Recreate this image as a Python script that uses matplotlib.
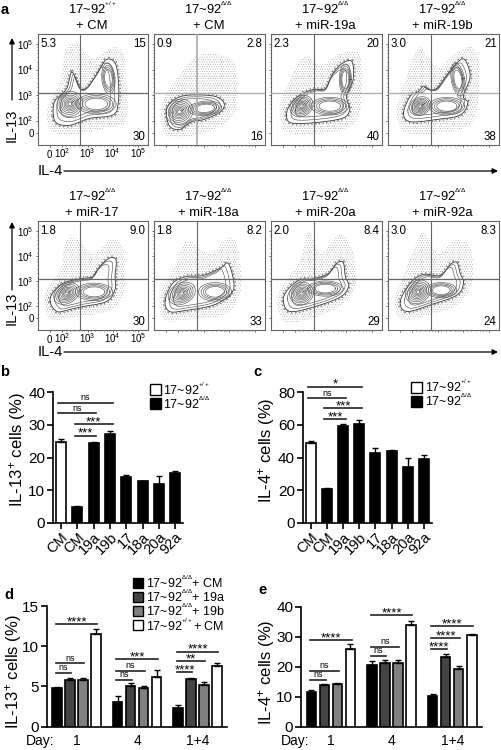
import matplotlib
matplotlib.use('Agg')
import matplotlib.pyplot as plt
import matplotlib.patches as patches
import numpy as np

plt.rcParams['font.family'] = ['Liberation Sans', 'DejaVu Sans']
plt.rcParams['mathtext.fontset'] = 'custom'
plt.rcParams['mathtext.rm'] = 'Liberation Sans'
plt.rcParams['mathtext.default'] = 'regular'
plt.rcParams['hatch.linewidth'] = 0.3

W, H = 502, 750
WT = '17~92$^{{}^{+/+}}$'
KO = '17~92$^{{}^{\\Delta/\\Delta}}$'

titles = [WT + '\n+ CM', KO + '\n+ CM', KO + '\n+ miR-19a', KO + '\n+ miR-19b',
          KO + '\n+ miR-17', KO + '\n+ miR-18a', KO + '\n+ miR-20a', KO + '\n+ miR-92a']
q_ul = ['5.3', '0.9', '2.3', '3.0', '1.8', '1.8', '2.0', '3.0']
q_ur = ['15', '2.8', '20', '21', '9.0', '8.2', '8.4', '8.3']
q_lr = ['30', '16', '40', '38', '30', '33', '29', '24']
tick_pos = [10.6, 22, 45, 68, 91]
tick_lab = ['0', '$10^{2}$', '$10^{3}$', '$10^{4}$', '$10^{5}$']

outer = [
    [(14, 26), (18, 19), (30, 18), (47, 24), (68, 27), (73, 38), (73, 59), (70, 74), (62, 77), (55, 66),
     (45, 52), (38, 51), (33, 63), (30, 65), (27, 53), (23, 47), (15, 39)],
    [(11, 29), (14, 17), (23, 14), (34, 21), (45, 23), (60, 30), (63, 38), (54, 44), (32, 45), (20, 42), (13, 36)],
    [(14, 27), (18, 20), (38, 20), (64, 24), (71, 32), (68, 44), (74, 59), (73, 75), (65, 74), (56, 65),
     (49, 51), (38, 50), (26, 45), (17, 36)],
    [(14, 29), (20, 21), (44, 23), (65, 27), (72, 38), (68, 44), (74, 62), (69, 77), (62, 74), (53, 63),
     (44, 51), (36, 50), (32, 53), (27, 48), (20, 44)],
    [(11, 26), (17, 17), (26, 18), (38, 21), (62, 26), (70, 37), (70, 49), (71, 64), (65, 66), (56, 58),
     (50, 49), (38, 47), (23, 43), (14, 35)],
    [(10, 27), (14, 17), (29, 18), (54, 23), (69, 33), (72, 43), (67, 61), (60, 57), (44, 50), (29, 49), (17, 43)],
    [(11, 27), (17, 17), (38, 21), (62, 30), (70, 40), (67, 49), (65, 62), (59, 61), (52, 52), (38, 47),
     (26, 46), (15, 37)],
    [(11, 26), (17, 17), (38, 23), (62, 32), (68, 43), (65, 52), (62, 62), (56, 60), (47, 50), (32, 51), (20, 43)],
]
clouds = [
    [(8, 28), (12, 13), (30, 9), (60, 15), (80, 22), (80, 60), (78, 82), (68, 88), (50, 78), (35, 92), (25, 85), (20, 55), (12, 42)],
    [(6, 28), (10, 10), (28, 7), (55, 15), (72, 28), (75, 50), (72, 75), (55, 82), (38, 80), (25, 65), (10, 45)],
    [(8, 28), (14, 12), (40, 10), (70, 16), (80, 30), (82, 70), (78, 84), (62, 82), (45, 72), (32, 80), (22, 70), (10, 42)],
    [(8, 28), (14, 12), (40, 10), (70, 16), (80, 32), (82, 70), (76, 88), (60, 82), (45, 70), (28, 88), (18, 65), (10, 42)],
    [(6, 27), (12, 10), (35, 12), (65, 18), (78, 35), (78, 70), (68, 84), (50, 70), (35, 84), (25, 80), (20, 55), (8, 38)],
    [(5, 27), (10, 9), (35, 10), (65, 15), (78, 35), (76, 72), (68, 85), (50, 70), (30, 82), (20, 62), (8, 38)],
    [(6, 25), (12, 8), (35, 10), (62, 22), (76, 40), (74, 72), (62, 88), (45, 70), (34, 90), (25, 62), (10, 40)],
    [(6, 26), (12, 10), (38, 14), (64, 24), (76, 45), (74, 76), (60, 82), (45, 70), (32, 90), (22, 70), (10, 40)],
]
# nested rings: centre x, centre y, width, height, angle
lobes = [
    [(29, 37, 24, 22, 30), (53, 37, 36, 18, 0), (64, 60, 12, 28, 5)],
    [(23, 30, 25, 22, 30), (46, 33, 30, 13, 5)],
    [(27.5, 35, 22, 18, 35), (53, 35, 34, 16, 0), (67, 59, 11, 28, 0)],
    [(29, 35, 20, 16, 30), (53, 35, 32, 16, 0), (63, 59, 12, 30, 10)],
    [(26, 33.5, 25, 18, 30), (51, 35, 34, 16, 0)],
    [(25, 33.5, 26, 19, 30), (55, 35, 30, 17, 0)],
    [(27.5, 33.5, 22, 20, 35), (49, 38, 32, 14, 0)],
    [(27, 35, 24, 20, 40), (48, 36.5, 28, 14, 0)],
]
ring_scale = [1, 0.84, 0.7, 0.57, 0.45, 0.34, 0.24, 0.14]
mid_scale = [0.88, 0.76]

# bars b and c
names = ['CM', 'CM', '19a', '19b', '17', '18a', '20a', '92a']
il13 = [24.7, 5.0, 24.3, 27.2, 14.0, 12.8, 11.9, 15.4]
il13_err = [0.8, 0.2, 0.5, 0.9, 0.7, 0.1, 2.3, 0.5]
il4 = [49, 21, 59.5, 60.5, 43, 44, 34, 39]
il4_err = [1.3, 0.5, 0.9, 2.2, 2.5, 0.4, 5.8, 2.4]
sig_b = [(0, 3, 36.6, 'ns'), (0, 2, 33.5, 'ns'), (1, 3, 30.1, '***'), (1, 2, 26.7, '***')]
sig_c = [(0, 3, 83.3, '*'), (0, 2, 76.1, 'ns'), (1, 3, 70.2, '***'), (1, 2, 63.3, '***')]

# bars d and e, 3 days with 4 groups each
days = ['1', '4', '1+4']
il13_day = [4.8, 5.8, 5.8, 11.5, 3.1, 5.0, 4.8, 6.2, 2.3, 5.9, 5.2, 7.5]
il13_day_err = [0.1, 0.25, 0.25, 0.6, 0.7, 0.4, 0.2, 0.9, 0.45, 0.15, 0.4, 0.45]
il4_day = [11.5, 13.8, 14.3, 26, 20.6, 21.3, 21.3, 33.8, 10.1, 23.4, 19.2, 30.5]
il4_day_err = [0.7, 0.5, 0.4, 1.5, 1.2, 1.0, 1.0, 1.4, 0.8, 1.0, 1.1, 0.4]
sig_d = [(0, 3, 12.76, '****'), (0, 2, 7.87, 'ns'), (0, 1, 6.71, 'ns'),
         (4, 7, 8.37, '***'), (4, 6, 6.96, 'ns'), (4, 5, 5.8, 'ns'),
         (8, 11, 9.32, '****'), (8, 10, 8.12, '**'), (8, 9, 6.75, '****')]
sig_e = [(0, 3, 28.9, '****'), (0, 2, 18.7, 'ns'), (0, 1, 15.6, 'ns'),
         (4, 7, 37.2, '****'), (4, 6, 26.7, 'ns'), (4, 5, 23.7, 'ns'),
         (8, 11, 33.6, '****'), (8, 10, 29.6, '****'), (8, 9, 25.8, '****')]
day_colors = ['black', '#444444', '#808080', 'white']
day_names = [KO + '+ CM', KO + '+ 19a', KO + '+ 19b', WT + '+ CM']

fig = plt.figure(figsize=(W / 100, H / 100), dpi=100)


def px_axes(x0, y0, x1, y1):
    # axes from pixel box, y counted from the top of the image
    return fig.add_axes([x0 / W, 1 - y1 / H, (x1 - x0) / W, (y1 - y0) / H])


def txt(x, y, s, **kw):
    kw.setdefault('ha', 'center')
    kw.setdefault('va', 'center')
    fig.text(x / W, 1 - y / H, s, **kw)


def smooth(pts, n=10):
    # closed catmull-rom through the read points
    p = np.array(pts, dtype=float)
    t = np.linspace(0, 1, n, endpoint=False)[:, None]
    out = []
    for i in range(len(p)):
        a, b, c, d = p[i - 1], p[i], p[(i + 1) % len(p)], p[(i + 2) % len(p)]
        out.append(0.5 * (2 * b + (c - a) * t + (2 * a - 5 * b + 4 * c - d) * t ** 2 + (3 * b - a - 3 * c + d) * t ** 3))
    out = np.vstack(out)
    return np.vstack([out, out[:1]])


def ring(cx, cy, w, h, ang, s):
    t = np.linspace(0, 2 * np.pi, 50)
    a = np.radians(ang)
    x = s * w / 2 * np.cos(t)
    y = s * h / 2 * np.sin(t)
    return cx + x * np.cos(a) - y * np.sin(a), cy + x * np.sin(a) + y * np.cos(a)


def flow_panel(k, box, gate_y, labelled):
    ax = px_axes(*box)
    ax.set_xlim(0, 100)
    ax.set_ylim(0, 100)
    ax.add_patch(patches.Polygon(smooth(clouds[k]), closed=True, facecolor='none', edgecolor='#9a9a9a',
                                 hatch='.......', lw=0, zorder=1))
    o = smooth(outer[k])
    ax.plot(o[:, 0], o[:, 1], color='#777777', lw=3, ls=(0, (0.3, 0.6)), zorder=2)
    ax.fill(o[:, 0], o[:, 1], color='white', zorder=3)
    ax.plot(o[:, 0], o[:, 1], color='#333333', lw=0.6, zorder=5)
    c = o.mean(axis=0)
    for s in mid_scale:
        ax.plot(c[0] + s * (o[:, 0] - c[0]), c[1] + s * (o[:, 1] - c[1]), color='#555555', lw=0.45, zorder=5)
    for n, lobe in enumerate(lobes[k]):
        for s in ring_scale[:8 if n == 0 else 4]:
            x, y = ring(*lobe, s)
            ax.plot(x, y, color='#555555', lw=0.45, zorder=5)
    gate = '#aaaaaa' if k == 1 else '#666666'
    ax.axvline(38.5, color=gate, lw=1.2 if k == 1 else 0.8, zorder=6)
    ax.axhline(gate_y, color='#aaaaaa' if k in (1, 2, 3) else '#666666', lw=0.9, zorder=6)
    ax.text(2, 96, q_ul[k], fontsize=8.3, ha='left', va='top', zorder=7)
    ax.text(98, 96, q_ur[k], fontsize=8.3, ha='right', va='top', zorder=7)
    ax.text(98, 2, q_lr[k], fontsize=8.3, ha='right', va='bottom', zorder=7)
    minor = [p + d for p in tick_pos[1:4] for d in (3, 7, 11, 15, 18, 20)]
    ax.set_xticks(tick_pos)
    ax.set_yticks(tick_pos)
    ax.set_xticks(minor, minor=True)
    ax.set_yticks(minor, minor=True)
    ax.tick_params(which='both', length=1.5, width=0.5, labelsize=7, color='#333333')
    ax.tick_params(axis='x', pad=8)
    ax.tick_params(axis='y', pad=1.5)
    ax.tick_params(which='minor', length=1)
    ax.set_xticklabels(tick_lab if labelled else [], va='baseline')
    ax.set_yticklabels(tick_lab if labelled else [])
    for s in ax.spines.values():
        s.set_color('#666666')
        s.set_linewidth(0.8)
    txt((box[0] + box[2]) / 2 - 1, box[1] - 18, titles[k], fontsize=9.4, linespacing=1.4)


def style_bars(ax, ymax, yticks):
    ax.set_ylim(0, ymax)
    ax.set_yticks(yticks)
    ax.spines['top'].set_visible(False)
    ax.spines['right'].set_visible(False)
    ax.spines['left'].set_linewidth(1.2)
    ax.spines['bottom'].set_linewidth(1.2)
    ax.patch.set_alpha(0)
    ax.tick_params(axis='y', length=4, width=1.2, pad=1.5, labelsize=11)


def brackets(ax, xs, sig, over):
    for a, b, y, lab in sig:
        ax.plot([xs[a] - over, xs[b] + over], [y, y], color='#222222', lw=1.2, clip_on=False)
        mid = (xs[a] + xs[b]) / 2
        if lab == 'ns':
            ax.annotate(lab, (mid, y), xytext=(0, 0.5), textcoords='offset points', ha='center', va='bottom',
                        fontsize=6.5, annotation_clip=False)
        else:
            ax.annotate(lab, (mid, y), xytext=(0, -3), textcoords='offset points', ha='center', va='bottom',
                        fontsize=9.5, annotation_clip=False)


def cell_panel(box, vals, errs, ymax, yticks, sig, ylabel, ylab_x):
    ax = px_axes(*box)
    xs = np.arange(len(vals))
    cols = ['white'] + ['black'] * (len(vals) - 1)
    ax.bar(xs, vals, width=0.62, color=cols, edgecolor='black', lw=1.2, zorder=3,
           yerr=[np.zeros(len(vals)), errs], ecolor='black', capsize=2.5, error_kw={'lw': 1, 'capthick': 1})
    ax.set_xlim(-0.49, 7.47)
    style_bars(ax, ymax, yticks)
    ax.set_xticks(xs)
    ax.set_xticklabels(names, rotation=45, ha='right', rotation_mode='anchor', fontsize=10.5)
    ax.tick_params(axis='x', length=4, width=1.2, pad=1)
    brackets(ax, xs, sig, 0.16)
    txt(ylab_x, 450, ylabel, rotation=90, fontsize=12)


def day_panel(box, vals, errs, ymax, yticks, sig, ylabel, ylab_x, day_x):
    ax = px_axes(*box)
    xs = np.array([g * 4.65 + i for g in range(3) for i in range(4)])
    ax.bar(xs, vals, width=0.73, color=day_colors * 3, edgecolor='black', lw=1.2, zorder=3,
           yerr=[np.zeros(len(vals)), errs], ecolor='black', capsize=2.5, error_kw={'lw': 1, 'capthick': 1})
    ax.set_xlim(-0.79, 13.06)
    style_bars(ax, ymax, yticks)
    ax.set_xticks([])
    brackets(ax, xs, sig, 0.1)
    txt(ylab_x, 672, ylabel, rotation=90, fontsize=12)
    txt(day_x, 741, 'Day:', fontsize=10)
    for g in range(3):
        centre = box[0] + (xs[g * 4] + 1.5 + 0.79) * (box[2] - box[0]) / 13.85
        txt(centre, 741, days[g], fontsize=10)


def key(x, y, color, label, size=11, fs=9):
    fig.add_artist(patches.Rectangle((x / W, 1 - (y + size) / H), size / W, size / H, facecolor=color,
                                     edgecolor='black', lw=1, transform=fig.transFigure))
    txt(x + size + 3, y + size / 2, label, fontsize=fs, ha='left')


def arrow(x0, y0, x1, y1):
    fig.add_artist(patches.FancyArrowPatch((x0 / W, 1 - y0 / H), (x1 / W, 1 - y1 / H), transform=fig.transFigure,
                                           arrowstyle='-|>', mutation_scale=8, lw=0.9, color='black',
                                           shrinkA=0, shrinkB=0))


# panel a
col_x = [(38, 148), (154, 265), (271, 382), (388, 499)]
for k in range(8):
    x0, x1 = col_x[k % 4]
    row = (34, 145) if k < 4 else (221, 330)
    flow_panel(k, (x0, row[0], x1, row[1]), 46.4 if k < 4 else 47, k % 4 == 0)
for y_top, y_low, y_lab, y_il4 in [(38, 100, 125, 171), (222, 290, 308, 352)]:
    arrow(12, y_low, 12, y_top)
    txt(12, y_lab, 'IL-13', rotation=90, fontsize=10.5)
    txt(50, y_il4, 'IL-4', fontsize=10.5)
    arrow(64, y_il4, 498, y_il4)

# panels b to e
cell_panel((53, 392, 183, 523), il13, il13_err, 40, [0, 10, 20, 30, 40], sig_b, 'IL-13$^{+}$ cells (%)', 18)
cell_panel((302.7, 392, 431.7, 523), il4, il4_err, 80, [0, 20, 40, 60, 80], sig_c, 'IL-4$^{+}$ cells (%)', 267)
day_panel((46.7, 606, 227, 726.7), il13_day, il13_day_err, 15, [0, 5, 10, 15], sig_d, 'IL-13$^{+}$ cells (%)', 13, 40)
day_panel((301, 606.7, 481.7, 726.7), il4_day, il4_day_err, 40, [0, 10, 20, 30, 40], sig_e, 'IL-4$^{+}$ cells (%)', 267, 295)

key(149.5, 384, 'white', WT)
key(149.5, 398, 'black', KO)
key(410.7, 381.5, 'white', WT)
key(410.7, 395.5, 'black', KO)
for i, y in enumerate([577.7, 592, 606, 620.3]):
    key(133, y, day_colors[i], day_names[i], size=10, fs=9)

for s, x, y in [('a', 5, 10), ('b', 5, 372), ('c', 257, 372), ('d', 9, 595), ('e', 263, 590)]:
    txt(x, y, s, fontweight='bold', fontsize=10.5)

fig.savefig('out.png', dpi=100)
